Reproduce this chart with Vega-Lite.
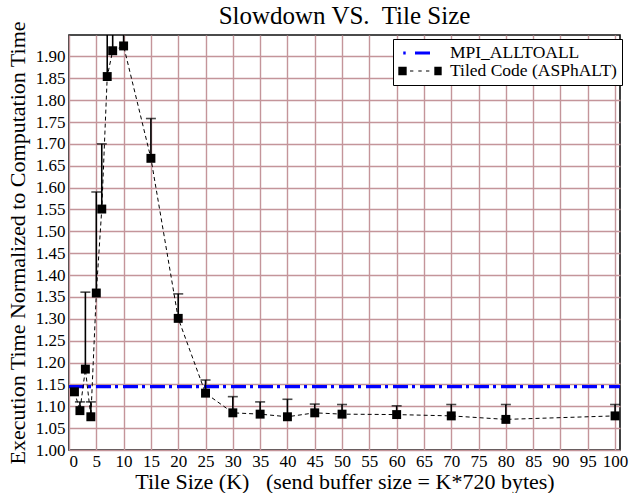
{
  "$schema": "https://vega.github.io/schema/vega-lite/v6.json",
  "autosize": "none",
  "padding": {"left": 69, "top": 35, "right": 9, "bottom": 43},
  "width": 551,
  "height": 415,
  "background": "white",
  "config": {
    "font": "Liberation Serif",
    "view": {"stroke": "#111111", "strokeWidth": 1.6},
    "style": {"guide-label": {"font": "Liberation Serif", "fill": "black"}, "guide-title": {"font": "Liberation Serif", "fill": "black"}},
    "axis": {
      "labelFont": "Liberation Serif",
      "titleFont": "Liberation Serif",
      "labelColor": "black",
      "titleColor": "black",
      "labelFontSize": 17,
      "titleFontSize": 22,
      "titleFontWeight": "normal",
      "ticks": false,
      "domain": false,
      "grid": true,
      "gridColor": "#c4959a",
      "gridWidth": 1.4,
      "gridOpacity": 1,
      "labelOverlap": false
    }
  },
  "title": {
    "text": "Slowdown VS.\u00a0 Tile Size",
    "font": "Liberation Serif",
    "fontSize": 25,
    "fontWeight": "normal",
    "color": "black",
    "anchor": "middle",
    "offset": 4,
    "dy": 12
  },
  "datasets": {
    "mpi": [
      {"K": 0, "v": 1.145},
      {"K": 100.9, "v": 1.145}
    ],
    "tiled": [
      {"K": 1, "v": 1.133, "hi": null},
      {"K": 2, "v": 1.090, "hi": 1.110},
      {"K": 3, "v": 1.185, "hi": 1.361},
      {"K": 4, "v": 1.076, "hi": 1.110},
      {"K": 5, "v": 1.359, "hi": 1.590},
      {"K": 6, "v": 1.551, "hi": 1.700},
      {"K": 7, "v": 1.854, "hi": 2.2},
      {"K": 8, "v": 1.913, "hi": 2.2},
      {"K": 10, "v": 1.924, "hi": 2.2},
      {"K": 15, "v": 1.667, "hi": 1.758},
      {"K": 20, "v": 1.301, "hi": 1.357},
      {"K": 25, "v": 1.130, "hi": 1.160},
      {"K": 30, "v": 1.085, "hi": 1.122},
      {"K": 35, "v": 1.082, "hi": 1.110},
      {"K": 40, "v": 1.076, "hi": 1.116},
      {"K": 45, "v": 1.085, "hi": 1.105},
      {"K": 50, "v": 1.082, "hi": 1.104},
      {"K": 60, "v": 1.081, "hi": 1.101},
      {"K": 70, "v": 1.078, "hi": 1.104},
      {"K": 80, "v": 1.070, "hi": 1.104},
      {"K": 100, "v": 1.078, "hi": 1.104}
    ],
    "legend": [
      {"series": "MPI_ALLTOALL"},
      {"series": "Tiled Code (ASPhALT)"}
    ]
  },
  "encoding": {
    "x": {
      "field": "K", "type": "quantitative",
      "scale": {"domain": [0, 100.9], "nice": false, "zero": false},
      "axis": {
        "values": [0,5,10,15,20,25,30,35,40,45,50,55,60,65,70,75,80,85,90,95,100],
        "tickCount": 30,
        "format": "d",
        "labelFont": "Liberation Serif",
        "labelPadding": 3,
        "titlePadding": 2,
        "title": "Tile Size (K)\u00a0\u00a0\u00a0(send buffer size = K*720 bytes)"
      }
    },
    "y": {
      "field": "v", "type": "quantitative",
      "scale": {"domain": [1, 1.949], "nice": false, "zero": false},
      "axis": {
        "values": [1.0,1.05,1.1,1.15,1.2,1.25,1.3,1.35,1.4,1.45,1.5,1.55,1.6,1.65,1.7,1.75,1.8,1.85,1.9],
        "tickCount": 30,
        "format": ".2f",
        "labelFont": "Liberation Serif",
        "labelPadding": 4,
        "titlePadding": 6,
        "title": "Execution Time Normalized to Computation Time"
      }
    }
  },
  "layer": [
    {
      "data": {"name": "mpi"},
      "mark": {"type": "line", "color": "#0000ff", "strokeWidth": 3.2, "strokeDash": [15, 4, 3, 5], "clip": true}
    },
    {
      "data": {"name": "tiled"},
      "mark": {"type": "line", "color": "black", "strokeWidth": 1, "strokeDash": [4, 3]}
    },
    {
      "data": {"name": "tiled"},
      "transform": [{"filter": "isValid(datum.hi)"}],
      "mark": {"type": "rule", "color": "black", "strokeWidth": 1.6, "clip": true},
      "encoding": {
        "y2": {"field": "hi"}
      }
    },
    {
      "data": {"name": "tiled"},
      "transform": [{"filter": "isValid(datum.hi)"}],
      "mark": {"type": "tick", "orient": "horizontal", "color": "black", "size": 10, "thickness": 1.6, "clip": true},
      "encoding": {
        "y": {"field": "hi", "type": "quantitative"}
      }
    },
    {
      "data": {"name": "tiled"},
      "mark": {"type": "square", "color": "black", "filled": true, "size": 80, "opacity": 1}
    },
    {
      "data": {"name": "legend"},
      "mark": {"type": "point", "filled": true, "opacity": 0},
      "encoding": {
        "x": {"value": 0},
        "y": {"value": 0},
        "color": {
          "field": "series", "type": "nominal",
          "scale": {"domain": ["MPI_ALLTOALL", "Tiled Code (ASPhALT)"], "range": ["#0000ff", "#000000"]},
          "legend": {
            "title": null, "orient": "none", "legendX": 324, "legendY": 4,
            "fillColor": "white", "strokeColor": "black", "padding": 5,
            "labelFont": "Liberation Serif", "labelFontSize": 17.5, "labelColor": "black", "labelLimit": 300,
            "labelOffset": 21, "symbolOffset": 13, "symbolSize": 324, "symbolStrokeWidth": 0, "rowPadding": 0, "symbolOpacity": 1
          }
        },
        "shape": {
          "field": "series", "type": "nominal",
          "scale": {
            "domain": ["MPI_ALLTOALL", "Tiled Code (ASPhALT)"],
            "range": [
              "M-1.86,-0.167H-1.59V0.167H-1.86Z M-0.556,-0.167H1.111V0.167H-0.556Z",
              "M-2.41,-0.467H-1.48V0.467H-2.41Z M-1.11,-0.061H-0.74V0.061H-1.11Z M-0.19,-0.061H0.19V0.061H-0.19Z M0.667,-0.061H1.037V0.061H0.667Z M1.59,-0.467H2.41V0.467H1.59Z"
            ]
          },
          "legend": {
            "title": null, "orient": "none", "legendX": 324, "legendY": 4,
            "fillColor": "white", "strokeColor": "black", "padding": 5,
            "labelFont": "Liberation Serif", "labelFontSize": 17.5, "labelColor": "black", "labelLimit": 300,
            "labelOffset": 21, "symbolOffset": 13, "symbolSize": 324, "symbolStrokeWidth": 0, "rowPadding": 0, "symbolOpacity": 1
          }
        }
      }
    }
  ]
}
